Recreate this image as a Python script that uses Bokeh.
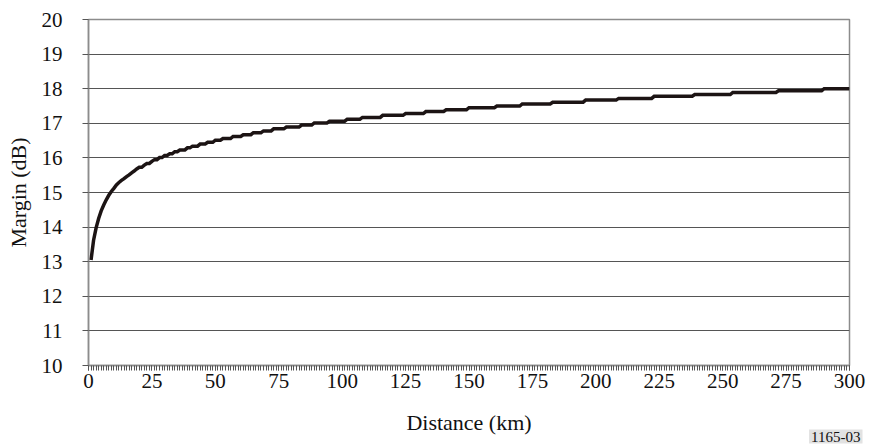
import numpy as np
from bokeh.plotting import figure
from bokeh.models import SingleIntervalTicker, FixedTicker, Title, Range1d
from bokeh.embed import file_html
from bokeh.resources import INLINE

# Margin levels (dB) and the distance (km) at which each level starts
level_start_km = [1, 2, 3, 4, 5, 6, 7, 8, 9, 10, 11, 12, 13, 14, 15, 16, 17, 18, 19, 20,
                  22, 23, 25, 26, 28, 30, 32, 34, 36, 39, 41, 44, 47, 50, 53, 57, 61, 65,
                  69, 73, 78, 84, 89, 95, 102, 108, 116, 125, 133, 141, 150, 161, 171,
                  183, 196, 209, 223, 239, 254, 272, 290]
level_db = [13.05, 13.62, 13.98, 14.25, 14.47, 14.64, 14.79, 14.92, 15.03, 15.12, 15.22,
            15.29, 15.35, 15.40, 15.46, 15.51, 15.57, 15.62, 15.68, 15.73, 15.79, 15.84,
            15.90, 15.95, 16.01, 16.07, 16.12, 16.18, 16.23, 16.29, 16.34, 16.40, 16.45,
            16.51, 16.56, 16.62, 16.67, 16.73, 16.78, 16.84, 16.89, 16.95, 17.01, 17.06,
            17.12, 17.17, 17.23, 17.28, 17.34, 17.39, 17.45, 17.50, 17.56, 17.61, 17.67,
            17.72, 17.78, 17.83, 17.89, 17.94, 18.00]

distance_ticks = list(range(0, 301, 25))
margin_ticks = list(range(10, 21))

# one sample per km, 1..300
km = np.arange(1, 301)
idx = np.searchsorted(level_start_km, km, side="right") - 1
margin = np.array(level_db)[idx]

SERIF = "Liberation Serif"

p = figure(width=873, height=446, output_backend="svg", toolbar_location=None,
           x_range=Range1d(0, 300), y_range=Range1d(10, 20),
           min_border_left=88, min_border_right=24, min_border_top=19,
           min_border_bottom=81, outline_line_color="#8c8c8c", outline_line_width=1.5)

p.line(km, margin, line_color="#1c1414", line_width=3.5, line_join="miter")

# axes
p.xaxis.ticker = SingleIntervalTicker(interval=25, num_minor_ticks=25)
p.yaxis.ticker = FixedTicker(ticks=margin_ticks)
for ax in (p.xaxis[0], p.yaxis[0]):
    ax.axis_line_color = "#8c8c8c"
    ax.axis_line_width = 1.5
    ax.major_tick_line_color = "#555555"
    ax.minor_tick_line_color = "#555555"
    ax.major_label_text_font = SERIF
    ax.major_label_text_font_size = "21px"
    ax.major_label_text_color = "#111111"
    ax.axis_label_text_font = SERIF
    ax.axis_label_text_font_size = "22px"
    ax.axis_label_text_font_style = "normal"
    ax.axis_label_text_color = "#111111"

p.xaxis.major_tick_in = 0
p.xaxis.major_tick_out = 5
p.xaxis.minor_tick_in = 0
p.xaxis.minor_tick_out = 5
p.xaxis.major_label_standoff = 3
p.xaxis.axis_label = "Distance (km)"
p.xaxis.axis_label_standoff = 19

p.yaxis.major_tick_in = 0
p.yaxis.major_tick_out = 6
p.yaxis.minor_tick_line_color = None
p.yaxis.major_label_standoff = 20
p.yaxis.axis_label = "Margin (dB)"
p.yaxis.axis_label_standoff = 8

p.xgrid.grid_line_color = None
p.ygrid.ticker = FixedTicker(ticks=margin_ticks)
p.ygrid.grid_line_color = "#555555"
p.ygrid.grid_line_width = 1

# figure number, under the axis at the right
p.add_layout(Title(text="1165-03", align="right", vertical_align="top", offset=-13,
                   standoff=-16, text_font=SERIF, text_font_size="15px",
                   text_font_style="normal", text_color="#111111",
                   background_fill_color="#e2e2e2", padding=2), "below")

open("out.html", "w").write(file_html(p, INLINE))
